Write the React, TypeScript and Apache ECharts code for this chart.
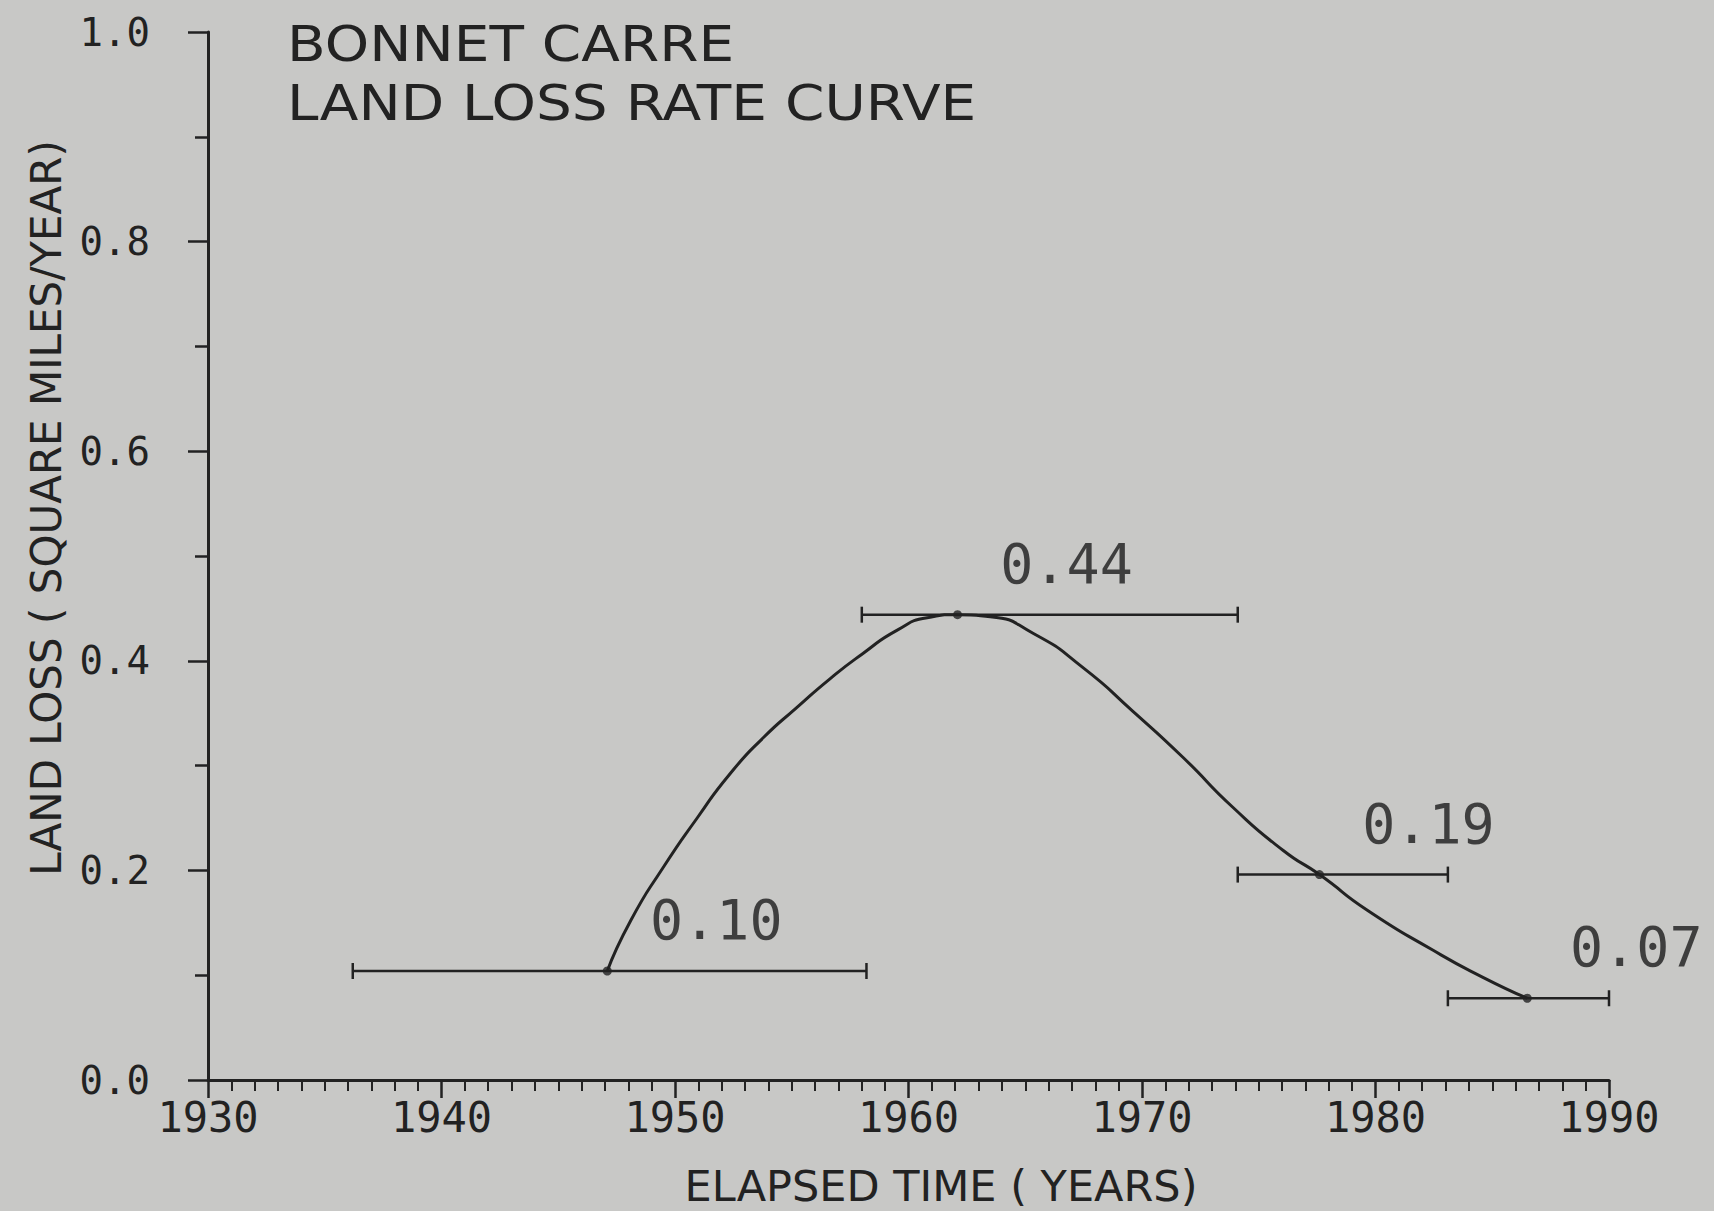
import React, { useEffect, useRef } from "react";
import * as echarts from "echarts";

// ---- data ----
const pointYears = [1947.1, 1962.1, 1977.6, 1986.5];
const pointRates = [0.104, 0.444, 0.196, 0.078];
const pointLabels = ["0.10", "0.44", "0.19", "0.07"];
const periodStart = [1936.2, 1958.0, 1974.1, 1983.1];
const periodEnd = [1958.2, 1974.1, 1983.1, 1990.0];

const curveYears = [
  1947.1, 1948.1, 1949.5, 1950.95, 1952.35, 1953.8, 1955.2, 1956.65, 1958.05,
  1959.5, 1960.8, 1962.1, 1963.5, 1965.35, 1967.5, 1969.6, 1971.75, 1973.9,
  1976.05, 1977.6, 1979.65, 1982.45, 1984.6, 1986.5,
];
const curveRates = [
  0.104, 0.152, 0.203, 0.25, 0.292, 0.327, 0.355, 0.383, 0.407, 0.429, 0.441,
  0.444, 0.442, 0.426, 0.393, 0.352, 0.308, 0.26, 0.219, 0.196, 0.162, 0.124,
  0.098, 0.078,
];

const xTickLabels = ["1930", "1940", "1950", "1960", "1970", "1980", "1990"];
const yTickLabels = ["0.0", "0.2", "0.4", "0.6", "0.8", "1.0"];

const titleLines = ["BONNET CARRE", "LAND LOSS RATE CURVE"];
const xAxisTitle = "ELAPSED TIME ( YEARS)";
const yAxisTitle = "LAND LOSS ( SQUARE MILES/YEAR)";

const BG = "#c8c8c6";
const INK = "#222222";
const SANS = "DejaVu Sans, sans-serif";
const MONO = "DejaVu Sans Mono, monospace";

export default function App() {
  const ref = useRef<HTMLDivElement>(null);

  useEffect(() => {
    if (!ref.current) return;
    const chart = echarts.init(ref.current, undefined, { renderer: "svg" });

    const curveData = curveYears.map((y, i) => [y, curveRates[i]]);
    const barData = periodStart.map((s, i) => [s, periodEnd[i], pointRates[i]]);
    const pointData = pointYears.map((y, i) => ({
      value: [y, pointRates[i]],
      label: { formatter: pointLabels[i] },
    }));

    chart.setOption({
      animation: false,
      backgroundColor: BG,
      grid: { left: 208, right: 105, top: 32, bottom: 131, containLabel: false },
      xAxis: {
        type: "value",
        min: 1930,
        max: 1990,
        interval: 10,
        axisLine: { show: true, lineStyle: { color: INK, width: 3 } },
        axisTick: { show: true, length: 18, lineStyle: { color: INK, width: 2.5 } },
        minorTick: { show: true, splitNumber: 10, length: 11, lineStyle: { color: INK, width: 2 } },
        splitLine: { show: false },
        minorSplitLine: { show: false },
        axisLabel: {
          margin: 16,
          fontFamily: MONO,
          fontSize: 42,
          color: INK,
          formatter: (v: number) => xTickLabels[Math.round((v - 1930) / 10)] ?? String(v),
        },
      },
      yAxis: {
        type: "value",
        min: 0,
        max: 1,
        interval: 0.2,
        axisLine: { show: true, lineStyle: { color: INK, width: 3 } },
        axisTick: { show: true, length: 20, lineStyle: { color: INK, width: 2.5 } },
        minorTick: { show: true, splitNumber: 2, length: 13, lineStyle: { color: INK, width: 2.5 } },
        splitLine: { show: false },
        minorSplitLine: { show: false },
        axisLabel: {
          margin: 58,
          fontFamily: MONO,
          fontSize: 39,
          color: INK,
          formatter: (v: number) => yTickLabels[Math.round(v / 0.2)] ?? v.toFixed(1),
        },
      },
      series: [
        {
          type: "line",
          data: curveData,
          smooth: 0.6,
          showSymbol: false,
          symbol: "none",
          lineStyle: { color: INK, width: 3 },
          z: 3,
        },
        {
          type: "custom",
          data: barData,
          encode: { x: [0, 1], y: 2 },
          clip: false,
          z: 2,
          renderItem: (params: any, api: any) => {
            const s = api.coord([api.value(0), api.value(2)]);
            const e = api.coord([api.value(1), api.value(2)]);
            const st = { stroke: INK, lineWidth: 2.5 };
            return {
              type: "group",
              children: [
                { type: "line", shape: { x1: s[0], y1: s[1], x2: e[0], y2: e[1] }, style: st },
                { type: "line", shape: { x1: s[0], y1: s[1] - 8, x2: s[0], y2: s[1] + 8 }, style: st },
                { type: "line", shape: { x1: e[0], y1: e[1] - 8, x2: e[0], y2: e[1] + 8 }, style: st },
              ],
            };
          },
        },
        {
          type: "scatter",
          data: pointData,
          symbol: "circle",
          symbolSize: 9,
          itemStyle: { color: INK },
          z: 4,
          label: {
            show: true,
            position: "inside",
            offset: [109, -51],
            align: "center",
            verticalAlign: "middle",
            fontFamily: MONO,
            fontSize: 55,
            color: "#1c1c1c",
            textBorderWidth: 0,
          },
        },
      ],
      graphic: [
        {
          type: "text",
          x: 287,
          y: 44,
          scaleX: 1.13,
          style: {
            text: titleLines[0],
            font: `50px ${SANS}`,
            lineHeight: 50,
            fill: INK,
            verticalAlign: "middle",
          },
        },
        {
          type: "text",
          x: 287,
          y: 103,
          scaleX: 1.13,
          style: {
            text: titleLines[1],
            font: `50px ${SANS}`,
            lineHeight: 50,
            fill: INK,
            verticalAlign: "middle",
          },
        },
        {
          type: "text",
          x: 941,
          y: 1186,
          style: {
            text: xAxisTitle,
            font: `43px ${SANS}`,
            fill: INK,
            align: "center",
            verticalAlign: "middle",
          },
        },
        {
          type: "text",
          x: 46,
          y: 508,
          rotation: Math.PI / 2,
          style: {
            text: yAxisTitle,
            font: `42px ${SANS}`,
            fill: INK,
            align: "center",
            verticalAlign: "middle",
          },
        },
      ],
    });

    return () => chart.dispose();
  }, []);

  return (
    <div
      ref={ref}
      style={{ position: "absolute", left: 0, top: 0, width: 1714, height: 1211, background: BG }}
    />
  );
}
